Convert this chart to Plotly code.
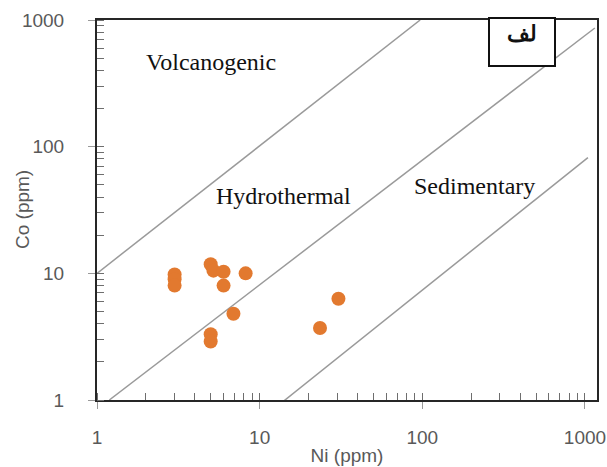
import math
import plotly.graph_objects as go

# Sample data (ppm)
ni = [3, 3, 3, 5, 5.2, 6, 8.2, 6, 6.9, 5, 5, 23.5, 30.5]
co = [9.8, 9.0, 8.0, 11.8, 10.5, 10.3, 10.0, 8.0, 4.8, 3.3, 2.9, 3.7, 6.3]

# Field boundary lines (endpoints)
line_ni = [[1.0, 97], [1.19, 1150], [9.7, 1043]]
line_co = [[10.0, 1000], [1.0, 865], [0.67, 82]]

# Field labels
field_names = ["Volcanogenic", "Hydrothermal", "Sedimentary"]
field_ni = [5.0, 14.0, 210.0]
field_co = [470.0, 41.0, 49.0]

x_ticks = [1, 10, 100, 1000]
y_ticks = [1, 10, 100, 1000]

fig = go.Figure()

for xs, ys in zip(line_ni, line_co):
    fig.add_trace(go.Scatter(x=xs, y=ys, mode="lines",
                             line=dict(color="#9a9a9a", width=1.5),
                             hoverinfo="skip", showlegend=False))

fig.add_trace(go.Scatter(x=ni, y=co, mode="markers",
                         marker=dict(color="#E2792F", size=14),
                         showlegend=False))

for name, xv, yv in zip(field_names, field_ni, field_co):
    fig.add_annotation(x=math.log10(xv), y=math.log10(yv),
                       xref="x", yref="y", text=name, showarrow=False,
                       font=dict(family="Liberation Serif", size=24, color="#111111"))

fig.add_annotation(x=0.85, y=0.943, xref="paper", yref="paper",
                   xanchor="center", yanchor="middle",
                   text="<b>لف</b>", showarrow=False,
                   width=62, height=44, valign="top",
                   bordercolor="#111111", borderwidth=2, bgcolor="white",
                   font=dict(family="DejaVu Serif", size=22, color="#111111"))

# y-axis title placed as a rotated annotation (sits close to the tick labels)
fig.add_annotation(x=-0.15, y=0.5, xref="paper", yref="paper",
                   xanchor="center", yanchor="middle", textangle=-90,
                   text="Co (ppm)", showarrow=False,
                   font=dict(family="Liberation Sans", size=19, color="#595959"))

axis_common = dict(
    type="log", showgrid=False, zeroline=False, automargin=False,
    showline=True, linecolor="#262626", linewidth=2, mirror=True,
    ticks="outside", ticklen=7, tickcolor="#999999", tickwidth=1,
    tickfont=dict(family="Liberation Sans", size=19, color="#595959"),
    minor=dict(ticks="inside", ticklen=7, tickcolor="#6e6e6e", tickwidth=1.2,
               showgrid=False, tickmode="linear", dtick="D1"),
)

fig.update_xaxes(**axis_common, range=[0, 3.074], tickvals=x_ticks,
                 ticktext=[str(v) for v in x_ticks], ticklabelstandoff=12,
                 title=dict(text="Ni (ppm)", font=dict(family="Liberation Sans", size=19, color="#595959"),
                            standoff=2))
fig.update_yaxes(**axis_common, range=[0, 3], tickvals=y_ticks,
                 ticktext=[str(v) for v in y_ticks], ticklabelstandoff=20)

fig.update_layout(width=607, height=467, margin=dict(l=97, r=10, t=20, b=67),
                  paper_bgcolor="white", plot_bgcolor="white", showlegend=False)

fig.write_html("out.html")
